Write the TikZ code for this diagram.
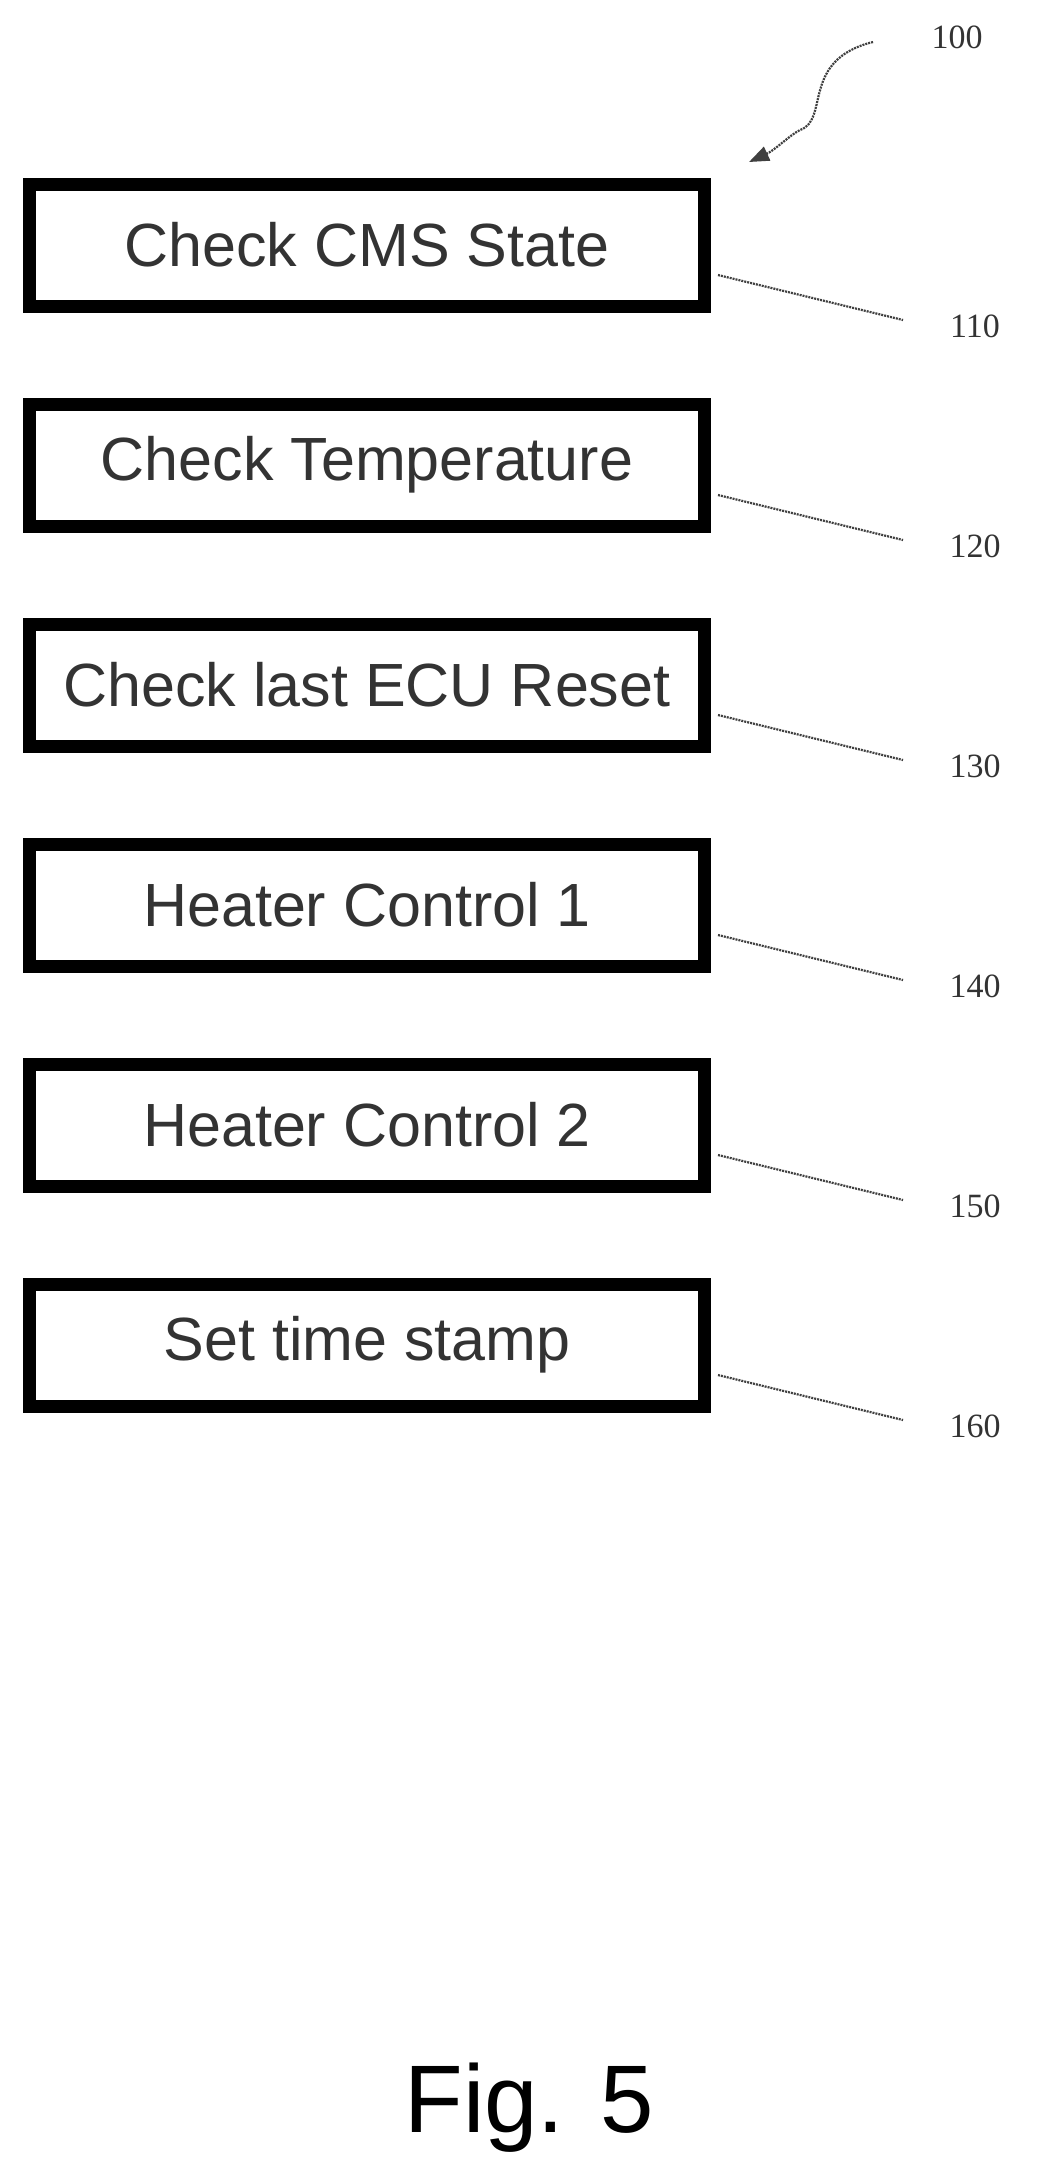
\documentclass[tikz,border=0pt]{standalone}
\usepackage{fontspec}
\setmainfont{Liberation Sans}
\newfontfamily\serifnum{Liberation Serif}
\usetikzlibrary{arrows.meta}
\begin{document}
\begin{tikzpicture}[x=1pt,y=-1pt,
  box/.style={draw=black,line width=13pt,minimum width=675pt,minimum height=122pt,inner sep=0pt,font=\fontsize{61}{66}\selectfont,text=black!80},
  lead/.style={draw=black!75,line width=2.2pt,dash pattern=on 2pt off 1pt},
  num/.style={font=\serifnum\fontsize{34}{38}\selectfont,text=black!80}]
\useasboundingbox (0,0) rectangle (1049,2172);
\fill[white] (0,0) rectangle (1049,2172);
\foreach \n/\t [count=\i from 0] in {110/Check CMS State,120/Check Temperature,130/Check last ECU Reset,140/Heater Control 1,150/Heater Control 2,160/Set time stamp}{
  \node[box] (b\n) at (367,{245+220*\i}) {\t};
  \node[num] (l\n) at (975,{326+220*\i}) {\n};
  \coordinate (e\n) at (903,{320+220*\i});
  \draw[lead] ([yshift=-30pt]b\n.east) ++(7,0) -- (e\n);
}
\node[num] (l100) at (957,37) {100};
\coordinate (s100) at (873,42);
\coordinate (t100) at (749,162);
\draw[lead,-{Triangle[length=20pt,width=15pt]}] (s100) .. controls (800,60) and (830,120) .. (800,130) .. controls (790,135) and (775,150) .. (t100);
\node[font=\fontsize{96}{100}\selectfont] (fig) at (529,2108) {Fig. 5};
\end{tikzpicture}
\end{document}
